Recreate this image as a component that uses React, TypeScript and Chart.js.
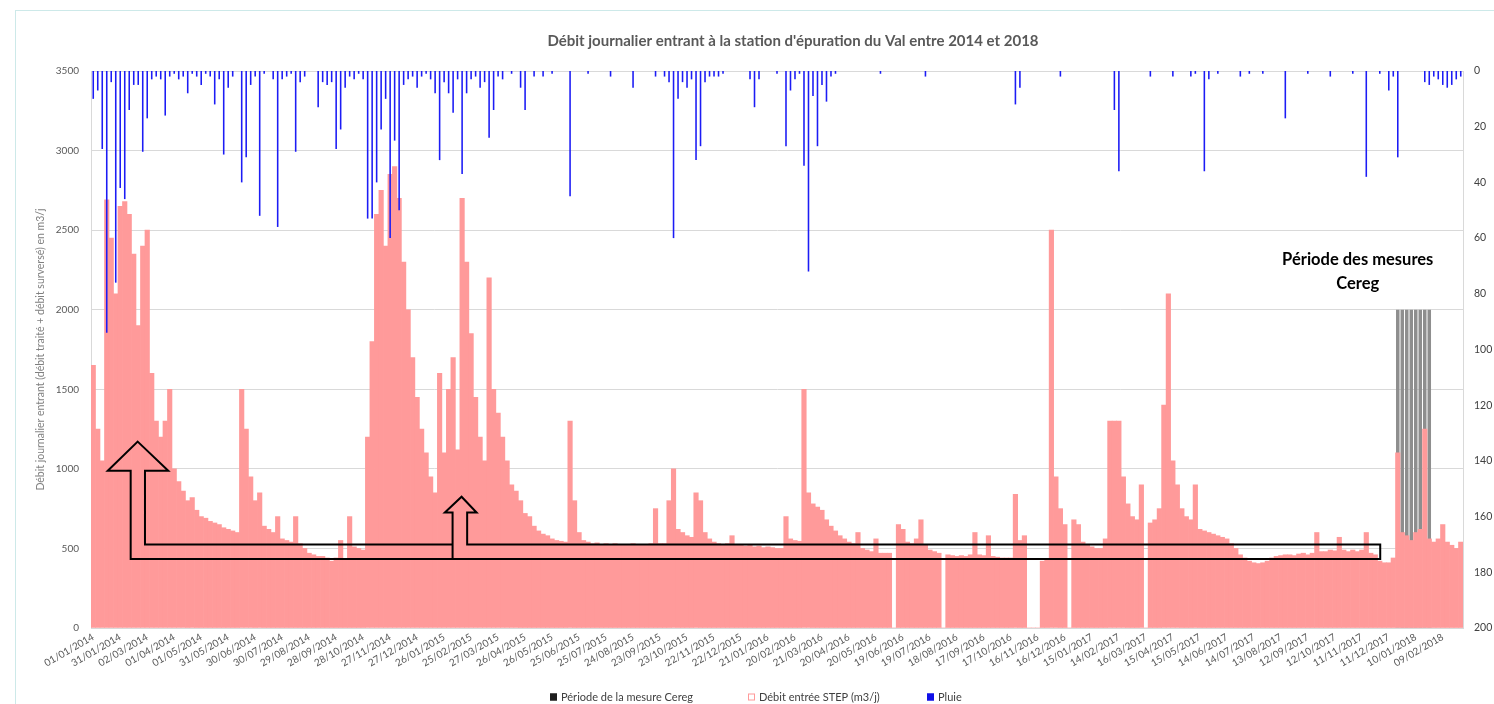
import React, { useEffect, useRef } from 'react';
import { Chart, registerables } from 'chart.js';

Chart.register(...registerables);

// ---------- DATA ----------
// x axis: one category per 5-day bin starting 01/01/2014; a date label every 6 bins (30 days)
const DAYS_PER_BIN = 5;
const BINS_PER_LABEL = 6;

const tickLabels = [
  '01/01/2014', '31/01/2014', '02/03/2014', '01/04/2014', '01/05/2014', '31/05/2014', '30/06/2014',
  '30/07/2014', '29/08/2014', '28/09/2014', '28/10/2014', '27/11/2014', '27/12/2014', '26/01/2015',
  '25/02/2015', '27/03/2015', '26/04/2015', '26/05/2015', '25/06/2015', '25/07/2015', '24/08/2015',
  '23/09/2015', '23/10/2015', '22/11/2015', '22/12/2015', '21/01/2016', '20/02/2016', '21/03/2016',
  '20/04/2016', '20/05/2016', '19/06/2016', '19/07/2016', '18/08/2016', '17/09/2016', '17/10/2016',
  '16/11/2016', '16/12/2016', '15/01/2017', '14/02/2017', '16/03/2017', '15/04/2017', '15/05/2017',
  '14/06/2017', '14/07/2017', '13/08/2017', '12/09/2017', '12/10/2017', '11/11/2017', '11/12/2017',
  '10/01/2018', '09/02/2018',
];

// Débit entrée STEP (m3/j), one value per 5-day bin (rows = 30 days)
const flowValues = [
  1650, 1250, 1050, 2690, 2450, 2100,
  2650, 2680, 2600, 2350, 1900, 2400,
  2500, 1600, 1300, 1200, 1300, 1500,
  1000, 920, 860, 800, 820, 740,
  700, 690, 670, 660, 650, 630,
  620, 610, 600, 1500, 1250, 950,
  800, 850, 640, 620, 600, 700,
  560, 550, 540, 700, 530, 500,
  470, 460, 450, 450, 440, 420,
  440, 550, 430, 700, 510, 500,
  490, 1200, 1800, 2600, 2750, 2400,
  2850, 2900, 2700, 2300, 2000, 1700,
  1450, 1250, 1100, 950, 850, 1600,
  1100, 1500, 1700, 1120, 2700, 2300,
  1850, 1450, 1200, 1050, 2200, 1500,
  1350, 1200, 1050, 900, 860, 800,
  720, 700, 640, 610, 590, 580,
  560, 550, 545, 540, 1300, 800,
  600, 550, 540, 530, 535, 525,
  530, 520, 530, 525, 520, 525,
  530, 520, 525, 520, 530, 750,
  530, 530, 800, 1000, 620, 600,
  580, 570, 850, 800, 600, 560,
  540, 530, 525, 530, 580, 520,
  525, 515, 520, 510, 515, 505,
  510, 505, 500, 500, 700, 560,
  550, 545, 1500, 850, 780, 760,
  740, 680, 640, 610, 580, 560,
  540, 530, 600, 500, 490, 480,
  560, 470, 470, 470, 0, 650,
  620, 540, 530, 560, 680, 520,
  490, 480, 470, 0, 460, 455,
  450, 455, 450, 460, 600, 460,
  455, 580, 450, 445, 440, 440,
  440, 840, 550, 580, 0, 0,
  0, 420, 430, 2500, 950, 750,
  650, 0, 680, 650, 540, 520,
  510, 500, 500, 560, 1300, 1300,
  1300, 950, 780, 700, 680, 900,
  0, 660, 680, 750, 1400, 2100,
  1050, 900, 750, 700, 680, 900,
  620, 610, 600, 590, 580, 570,
  560, 530, 500, 460, 440, 420,
  410, 405, 410, 420, 440, 450,
  455, 460, 460, 455, 465, 470,
  460, 470, 600, 480, 480, 490,
  485, 570, 490, 480, 490, 480,
  490, 600, 470, 460, 420, 410,
  410, 440, 1100, 600, 580, 550,
  600, 620, 1250, 560, 540, 560,
  650, 540, 520, 500, 540,
];

// Pluie (mm): [bin index, max daily rain in that bin]; other bins have no rain
const rainEvents: [number, number][] = [
  [0, 10], [1, 7], [2, 28], [3, 94], [4, 4], [5, 76], [6, 42], [7, 46], [8, 14], [9, 5],
  [10, 5], [11, 29], [12, 17], [13, 3], [14, 2], [15, 3], [16, 16], [17, 2], [18, 1], [19, 3],
  [20, 2], [21, 8], [22, 1], [23, 2], [24, 5], [25, 1], [26, 2], [27, 12], [28, 3], [29, 30],
  [30, 6], [31, 2], [33, 40], [34, 31], [35, 5], [36, 2], [37, 52], [38, 1], [40, 3], [41, 56],
  [42, 3], [43, 2], [44, 1], [45, 29], [46, 4], [47, 2], [50, 13], [51, 4], [52, 5], [53, 4],
  [54, 28], [55, 21], [56, 6], [57, 2], [58, 3], [59, 1], [60, 3], [61, 53], [62, 53], [63, 40],
  [64, 21], [65, 10], [66, 60], [67, 25], [68, 50], [69, 5], [70, 3], [71, 2], [72, 6], [73, 2],
  [74, 1], [75, 3], [76, 8], [77, 32], [78, 4], [79, 8], [80, 15], [81, 3], [82, 37], [83, 8],
  [84, 3], [85, 2], [86, 6], [87, 4], [88, 24], [89, 14], [90, 2], [91, 3], [93, 1], [95, 6],
  [96, 14], [98, 2], [100, 2], [102, 1], [106, 45], [110, 1], [115, 2], [120, 6], [125, 2],
  [127, 2], [128, 4], [129, 60], [130, 10], [131, 4], [132, 6], [133, 3], [134, 32], [135, 27],
  [136, 4], [137, 2], [138, 2], [139, 2], [140, 1], [146, 3], [147, 13], [148, 3], [152, 1],
  [154, 27], [155, 7], [156, 3], [157, 1], [158, 34], [159, 72], [160, 9], [161, 27], [162, 5],
  [163, 11], [164, 2], [165, 1], [175, 1], [185, 2], [205, 12], [206, 6], [215, 2], [227, 14],
  [228, 36], [235, 2], [240, 2], [244, 2], [245, 1], [247, 36], [248, 3], [250, 1], [255, 2],
  [257, 1], [260, 1], [265, 17], [270, 1], [275, 2], [280, 1], [283, 38], [286, 1], [288, 7],
  [289, 2], [290, 31], [296, 4], [297, 5], [298, 2], [299, 3], [300, 5], [301, 6], [302, 5],
  [303, 3], [304, 2],
];

// Période de la mesure Cereg
const ceregFirstBin = 290;
const ceregLastBin = 297;
const ceregLevel = 2000;

const seriesNames = ['Période de la mesure Cereg', 'Débit entrée STEP (m3/j)', 'Pluie'];
const chartTitle = "Débit journalier entrant à la station d'épuration du Val entre 2014 et 2018";
const leftAxisTitle = 'Débit journalier entrant (débit traité + débit surversé) en m3/j';

// Annotation shapes in data units: [day since 01/01/2014, m3/j]
const arrowOutline: [number, number][] = [
  [51.9, 1171], [85.9, 988], [60, 988], [60, 525], [401.9, 525], [401.9, 725], [393.3, 725],
  [411.9, 825], [428.6, 725], [418.1, 725], [418.1, 525], [1433, 525], [1433, 434], [44.1, 434],
  [44.1, 988], [18.6, 988],
];
const arrowJoin: [number, number][] = [[401.9, 525], [401.9, 434]];
const noteLines = ['Période des mesures', 'Cereg'];
const noteAnchor: [number, number] = [1408, 2313];

// ---------- DERIVED ----------
const binLabels = flowValues.map((_, i) => String(i));
const rainValues: number[] = flowValues.map(() => 0);
rainEvents.forEach(([b, mm]) => { rainValues[b] = mm; });
const ceregValues = flowValues.map((_, i) => (i >= ceregFirstBin && i <= ceregLastBin ? ceregLevel : null));

const FONT = 'Lato, "Liberation Sans", sans-serif';
const PINK = '#ff9a9a';
const BLUE = '#1c1cf5';
const GREY_BAR = '#8e8e8e';

const legendSwatches = [
  { fill: '#1e1e1e', stroke: '#1e1e1e', x: 550 },
  { fill: '#ffffff', stroke: PINK, x: 748 },
  { fill: '#1010e8', stroke: '#1010e8', x: 927 },
];

const extrasPlugin = {
  id: 'extras',
  afterDatasetsDraw(chart: any) {
    const { ctx, chartArea, scales } = chart;
    const totalDays = flowValues.length * DAYS_PER_BIN;
    const px = (d: number) => chartArea.left + (d / totalDays) * (chartArea.right - chartArea.left);
    const py = (v: number) => scales.y.getPixelForValue(v);
    ctx.save();
    ctx.strokeStyle = '#000000';
    ctx.lineWidth = 2;
    ctx.lineJoin = 'miter';
    ctx.beginPath();
    arrowOutline.forEach(([d, v], i) => {
      if (i === 0) ctx.moveTo(px(d), py(v));
      else ctx.lineTo(px(d), py(v));
    });
    ctx.closePath();
    ctx.moveTo(px(arrowJoin[0][0]), py(arrowJoin[0][1]));
    ctx.lineTo(px(arrowJoin[1][0]), py(arrowJoin[1][1]));
    ctx.stroke();

    ctx.fillStyle = '#000000';
    ctx.font = `bold 16.5px ${FONT}`;
    ctx.textAlign = 'center';
    ctx.textBaseline = 'middle';
    noteLines.forEach((t, i) => ctx.fillText(t, px(noteAnchor[0]), py(noteAnchor[1]) + i * 24));
    ctx.restore();
  },
  afterDraw(chart: any) {
    const { ctx } = chart;
    ctx.save();
    // title
    ctx.fillStyle = '#595959';
    ctx.font = `bold 15px ${FONT}`;
    ctx.textAlign = 'center';
    ctx.textBaseline = 'middle';
    ctx.fillText(chartTitle, 793, 41);

    // legend
    ctx.font = `11px ${FONT}`;
    ctx.textAlign = 'left';
    const box = 7;
    const y = 697;
    seriesNames.forEach((name, i) => {
      const sw = legendSwatches[i];
      ctx.fillStyle = sw.fill;
      ctx.fillRect(sw.x, y - box / 2, box, box);
      ctx.strokeStyle = sw.stroke;
      ctx.lineWidth = 1;
      ctx.strokeRect(sw.x + 0.5, y - box / 2 + 0.5, box - 1, box - 1);
      ctx.fillStyle = '#404040';
      ctx.fillText(name, sw.x + box + 4, y + 0.5);
    });
    ctx.restore();
  },
};

export default function App() {
  const canvasRef = useRef<HTMLCanvasElement | null>(null);

  useEffect(() => {
    if (!canvasRef.current) return;
    Chart.defaults.font.family = FONT;
    const chart = new Chart(canvasRef.current, {
      type: 'bar',
      data: {
        labels: binLabels,
        datasets: [
          {
            label: seriesNames[0],
            data: ceregValues,
            backgroundColor: GREY_BAR,
            yAxisID: 'y',
            order: 3,
            grouped: false,
            barPercentage: 0.78,
            categoryPercentage: 1,
          } as any,
          {
            label: seriesNames[1],
            data: flowValues,
            backgroundColor: PINK,
            yAxisID: 'y',
            order: 2,
            grouped: false,
            barPercentage: 1,
            categoryPercentage: 1,
          },
          {
            label: seriesNames[2],
            data: rainValues,
            backgroundColor: BLUE,
            yAxisID: 'y2',
            order: 1,
            grouped: false,
            barPercentage: 0.35,
            categoryPercentage: 1,
          },
        ],
      },
      options: {
        animation: false,
        responsive: true,
        maintainAspectRatio: false,
        layout: { padding: { top: 71, left: 0, right: 0, bottom: 0 } },
        plugins: {
          legend: { display: false },
          title: { display: false },
          tooltip: { enabled: false },
        },
        scales: {
          x: {
            type: 'category',
            offset: true,
            grid: { display: false, drawTicks: false },
            border: { display: true, color: '#d9d9d9' },
            ticks: {
              autoSkip: false,
              maxRotation: 30,
              minRotation: 30,
              padding: 3,
              color: '#595959',
              font: { size: 10 },
              callback: (_v: any, i: number) => (i % BINS_PER_LABEL === 0 ? tickLabels[i / BINS_PER_LABEL] : null),
            },
            afterFit: (s: any) => { s.height = 76; },
          },
          y: {
            position: 'left',
            min: 0,
            max: 3500,
            ticks: {
              stepSize: 500,
              padding: 12,
              color: '#595959',
              font: { size: 10 },
              callback: (v: any) => String(v),
            },
            grid: { color: '#d9d9d9', drawTicks: false },
            border: { color: '#d9d9d9' },
            title: {
              display: true,
              text: leftAxisTitle,
              color: '#7f7f7f',
              font: { size: 10.5 },
              padding: { top: 34, bottom: 0 },
            },
            afterFit: (s: any) => { s.width = 91; },
          },
          y2: {
            position: 'right',
            reverse: true,
            min: 0,
            max: 200,
            ticks: {
              stepSize: 20,
              padding: 11,
              color: '#404040',
              font: { size: 10.5 },
              callback: (v: any) => String(v),
            },
            grid: { display: false, drawTicks: false },
            border: { color: '#d9d9d9' },
            afterFit: (s: any) => { s.width = 31; },
          },
        },
      } as any,
      plugins: [extrasPlugin],
    });
    return () => chart.destroy();
  }, []);

  return (
    <div style={{ position: 'fixed', left: 0, top: 0, width: 1494, height: 704, overflow: 'hidden', background: '#ffffff' }}>
      <div
        style={{
          position: 'absolute',
          left: 15,
          top: 10,
          width: 1520,
          height: 740,
          border: '1.5px solid #cde9e9',
          boxSizing: 'border-box',
        }}
      />
      <div style={{ position: 'absolute', left: 0, top: 0, width: 1494, height: 704 }}>
        <canvas ref={canvasRef} />
      </div>
    </div>
  );
}
